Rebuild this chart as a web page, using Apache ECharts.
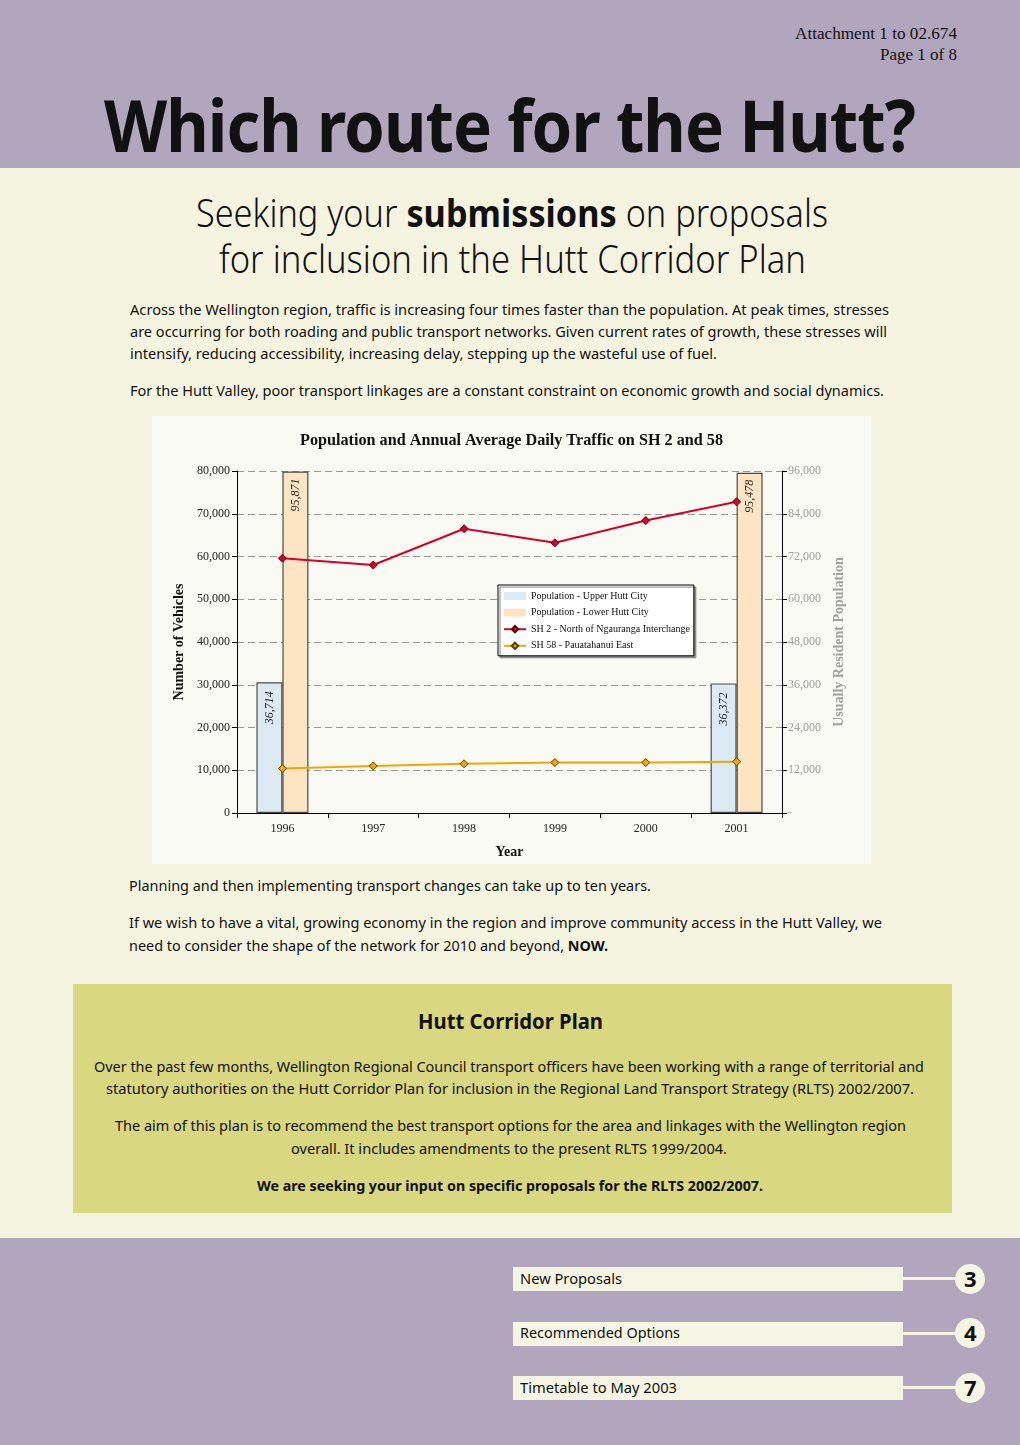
<!DOCTYPE html>
<html><head><meta charset="utf-8">
<script src="https://cdn.jsdelivr.net/npm/echarts@6/dist/echarts.min.js"></script>
<style>
html,body{margin:0;padding:0;}
body{width:1020px;height:1445px;position:relative;background:#f5f4e1;overflow:hidden;font-family:"Noto Sans","Open Sans",sans-serif;color:#111;}
.band{position:absolute;left:0;width:1020px;background:#b2a6be;}
.t{position:absolute;white-space:nowrap;display:inline-block;transform-origin:0 0;line-height:1;}
.serif{font-family:"Liberation Serif","Times New Roman",serif;}
.box{position:absolute;}
</style></head>
<body>
<div class="band" style="top:0;height:168px;"></div>
<div class="band" style="top:1238px;height:207px;"></div>

<span class="t serif fit" data-w="162" style="left:795px;top:26px;font-size:16px;">Attachment 1 to 02.674</span>
<span class="t serif fit" data-w="77" style="left:880px;top:47px;font-size:16px;">Page 1 of 8</span>

<span class="t fit" data-w="811" style="left:104px;top:88px;font-size:72px;font-weight:700;letter-spacing:-1px;">Which route for the Hutt?</span>

<span class="t fit" data-w="632" style="left:196px;top:193px;font-size:38px;font-weight:300;">Seeking your <b style="font-weight:700">submissions</b> on proposals</span>
<span class="t fit" data-w="587" style="left:219px;top:239px;font-size:38px;font-weight:300;">for inclusion in the Hutt Corridor Plan</span>

<span class="t fit" data-w="759" style="left:130px;top:302px;font-size:15px;">Across the Wellington region, traffic is increasing four times faster than the population. At peak times, stresses</span>
<span class="t fit" data-w="757" style="left:130px;top:324px;font-size:15px;">are occurring for both roading and public transport networks. Given current rates of growth, these stresses will</span>
<span class="t fit" data-w="587" style="left:130px;top:346px;font-size:15px;">intensify, reducing accessibility, increasing delay, stepping up the wasteful use of fuel.</span>
<span class="t fit" data-w="754" style="left:130px;top:383px;font-size:15px;">For the Hutt Valley, poor transport linkages are a constant constraint on economic growth and social dynamics.</span>

<div id="chart" class="box" style="left:152px;top:416px;width:719px;height:448px;background:#fafaf4;"></div>

<span class="t fit" data-w="522" style="left:129px;top:878px;font-size:15px;">Planning and then implementing transport changes can take up to ten years.</span>
<span class="t fit" data-w="753" style="left:129px;top:915px;font-size:15px;">If we wish to have a vital, growing economy in the region and improve community access in the Hutt Valley, we</span>
<span class="t fit" data-w="479" style="left:129px;top:938px;font-size:15px;">need to consider the shape of the network for 2010 and beyond, <b>NOW.</b></span>

<div class="box" style="left:73px;top:984px;width:879px;height:229px;background:#d9d780;"></div>
<span class="t fit" data-w="185" style="left:418px;top:1009px;font-size:22px;font-weight:700;">Hutt Corridor Plan</span>
<span class="t fit" data-w="830" style="left:94px;top:1059px;font-size:15px;">Over the past few months, Wellington Regional Council transport officers have been working with a range of territorial and</span>
<span class="t fit" data-w="808" style="left:106px;top:1081px;font-size:15px;">statutory authorities on the Hutt Corridor Plan for inclusion in the Regional Land Transport Strategy (RLTS) 2002/2007.</span>
<span class="t fit" data-w="791" style="left:115px;top:1118px;font-size:15px;">The aim of this plan is to recommend the best transport options for the area and linkages with the Wellington region</span>
<span class="t fit" data-w="436" style="left:291px;top:1141px;font-size:15px;">overall. It includes amendments to the present RLTS 1999/2004.</span>
<span class="t fit" data-w="506" style="left:257px;top:1178px;font-size:15px;font-weight:700;">We are seeking your input on specific proposals for the RLTS 2002/2007.</span>

<div class="box" style="left:513px;top:1267px;width:390px;height:24px;background:#f6f5e3;"></div>
<div class="box" style="left:903px;top:1277px;width:56px;height:3px;background:#f6f5e3;"></div>
<div class="box" style="left:955px;top:1264px;width:30px;height:30px;border-radius:50%;background:#f6f5e3;"></div>
<span class="t" style="left:964px;top:1267px;font-size:22px;font-weight:700;">3</span>
<span class="t fit" data-w="102" style="left:520px;top:1271px;font-size:15px;">New Proposals</span>

<div class="box" style="left:513px;top:1322px;width:390px;height:24px;background:#f6f5e3;"></div>
<div class="box" style="left:903px;top:1332px;width:56px;height:3px;background:#f6f5e3;"></div>
<div class="box" style="left:955px;top:1318px;width:30px;height:30px;border-radius:50%;background:#f6f5e3;"></div>
<span class="t" style="left:964px;top:1321px;font-size:22px;font-weight:700;">4</span>
<span class="t fit" data-w="160" style="left:520px;top:1325px;font-size:15px;">Recommended Options</span>

<div class="box" style="left:513px;top:1376px;width:390px;height:24px;background:#f6f5e3;"></div>
<div class="box" style="left:903px;top:1386px;width:56px;height:3px;background:#f6f5e3;"></div>
<div class="box" style="left:955px;top:1373px;width:30px;height:30px;border-radius:50%;background:#f6f5e3;"></div>
<span class="t" style="left:964px;top:1376px;font-size:22px;font-weight:700;">7</span>
<span class="t fit" data-w="157" style="left:520px;top:1380px;font-size:15px;">Timetable to May 2003</span>

<script>
// ---- data ----
const years = ['1996', '1997', '1998', '1999', '2000', '2001'];
const popUpperHutt = [36714, null, null, null, null, 36372];
const popLowerHutt = [95871, null, null, null, null, 95478];
const sh2Ngauranga = [59600, 58000, 66500, 63200, 68400, 72800];
const sh58Pauatahanui = [10400, 11000, 11500, 11800, 11800, 12000];
const vehicleAxis = {min: 0, max: 80000, interval: 10000};
const populationAxis = {min: 0, max: 96000, interval: 12000};
const seriesNames = ['Population - Upper Hutt City', 'Population - Lower Hutt City',
  'SH 2 - North of Ngauranga Interchange', 'SH 58 - Pauatahanui East'];

function fitAll(){
  document.querySelectorAll('.fit').forEach(el => {
    el.style.transform = 'none';
    const w = +el.dataset.w;
    const nat = el.getBoundingClientRect().width;
    if (nat > 0) el.style.transform = 'scaleX(' + (w / nat) + ')';
  });
}
fitAll();
if (document.fonts && document.fonts.ready) document.fonts.ready.then(fitAll);

const SERIF = '"Liberation Serif","Times New Roman",serif';
const fmt = v => v.toLocaleString('en-US');
const chart = echarts.init(document.getElementById('chart'), null, {renderer: 'canvas'});
chart.setOption({
  animation: false,
  backgroundColor: '#fafaf4',
  textStyle: {fontFamily: SERIF},
  title: {
    text: 'Population and Annual Average Daily Traffic on SH 2 and 58',
    left: 'center', top: 12,
    textStyle: {fontFamily: SERIF, fontSize: 16.2, fontWeight: 'bold', color: '#111'}
  },
  grid: {left: 85, right: 89, top: 55, bottom: 51, outerBoundsMode: 'none', containLabel: false},
  legend: {
    orient: 'vertical', left: 346, top: 169,
    backgroundColor: '#ffffff', borderColor: '#000', borderWidth: 1,
    shadowColor: '#888', shadowOffsetX: 2, shadowOffsetY: 2, shadowBlur: 0,
    padding: [6, 4, 5, 5], itemGap: 6.6, itemWidth: 22, itemHeight: 8,
    textStyle: {fontFamily: SERIF, fontSize: 10, color: '#111'},
    data: [
      {name: seriesNames[0], icon: 'rect', itemStyle: {borderWidth: 0}},
      {name: seriesNames[1], icon: 'rect', itemStyle: {borderWidth: 0}},
      {name: seriesNames[2]},
      {name: seriesNames[3]}
    ]
  },
  xAxis: {
    type: 'category', data: years,
    name: 'Year', nameLocation: 'middle', nameGap: 32,
    nameTextStyle: {fontFamily: SERIF, fontSize: 14, fontWeight: 'bold', color: '#111'},
    axisLine: {lineStyle: {color: '#000', width: 1}},
    axisTick: {show: true, length: 5, lineStyle: {color: '#000'}},
    axisLabel: {fontFamily: SERIF, fontSize: 12, color: '#222', margin: 10}
  },
  yAxis: [{
    type: 'value', position: 'left',
    min: vehicleAxis.min, max: vehicleAxis.max, interval: vehicleAxis.interval,
    name: 'Number of Vehicles', nameLocation: 'middle', nameGap: 48,
    nameTextStyle: {fontFamily: SERIF, fontSize: 14, fontWeight: 'bold', color: '#111'},
    axisLine: {show: true, lineStyle: {color: '#000'}},
    axisTick: {show: true, length: 5, lineStyle: {color: '#000'}},
    axisLabel: {fontFamily: SERIF, fontSize: 12, color: '#222', margin: 7, formatter: v => fmt(v)},
    splitLine: {show: true, lineStyle: {color: '#9a9a9a', type: [7, 4], width: 1}}
  }, {
    type: 'value', position: 'right',
    min: populationAxis.min, max: populationAxis.max, interval: populationAxis.interval,
    name: 'Usually Resident Population', nameLocation: 'middle', nameGap: 43, nameRotate: 90,
    nameTextStyle: {fontFamily: SERIF, fontSize: 14, fontWeight: 'bold', color: '#a0a0a0'},
    axisLine: {show: true, lineStyle: {color: '#000'}},
    axisTick: {show: true, length: 5, lineStyle: {color: '#000'}},
    axisLabel: {fontFamily: SERIF, fontSize: 12, color: '#a0a0a0', margin: 6,
      formatter: v => v === 0 ? '-' : fmt(v)},
    splitLine: {show: false}
  }],
  series: [{
    name: seriesNames[0], type: 'bar', yAxisIndex: 1, data: popUpperHutt,
    barWidth: 26, barGap: '0%',
    itemStyle: {color: '#dcebf3', borderColor: '#4a4a4a', borderWidth: 1.2},
    label: {show: true, position: 'insideTop', rotate: 90, align: 'right', verticalAlign: 'middle',
      distance: 9, fontFamily: SERIF, fontStyle: 'italic', fontSize: 12, color: '#222',
      formatter: p => fmt(p.value)}
  }, {
    name: seriesNames[1], type: 'bar', yAxisIndex: 1, data: popLowerHutt,
    barWidth: 26, barGap: '0%',
    itemStyle: {color: '#fde5c3', borderColor: '#4a4a4a', borderWidth: 1.2},
    label: {show: true, position: 'insideTop', rotate: 90, align: 'right', verticalAlign: 'middle',
      distance: 7, fontFamily: SERIF, fontStyle: 'italic', fontSize: 12, color: '#222',
      formatter: p => fmt(p.value)}
  }, {
    name: seriesNames[2], type: 'line', yAxisIndex: 0, data: sh2Ngauranga,
    symbol: 'diamond', symbolSize: 8, showAllSymbol: true,
    lineStyle: {color: '#d6002b', width: 2},
    itemStyle: {color: '#d6002b', borderColor: '#5a0010', borderWidth: 1}
  }, {
    name: seriesNames[3], type: 'line', yAxisIndex: 0, data: sh58Pauatahanui,
    symbol: 'diamond', symbolSize: 8, showAllSymbol: true,
    lineStyle: {color: '#f0a800', width: 2},
    itemStyle: {color: '#f0a800', borderColor: '#5a4000', borderWidth: 1}
  }]
});
</script>
</body></html>
